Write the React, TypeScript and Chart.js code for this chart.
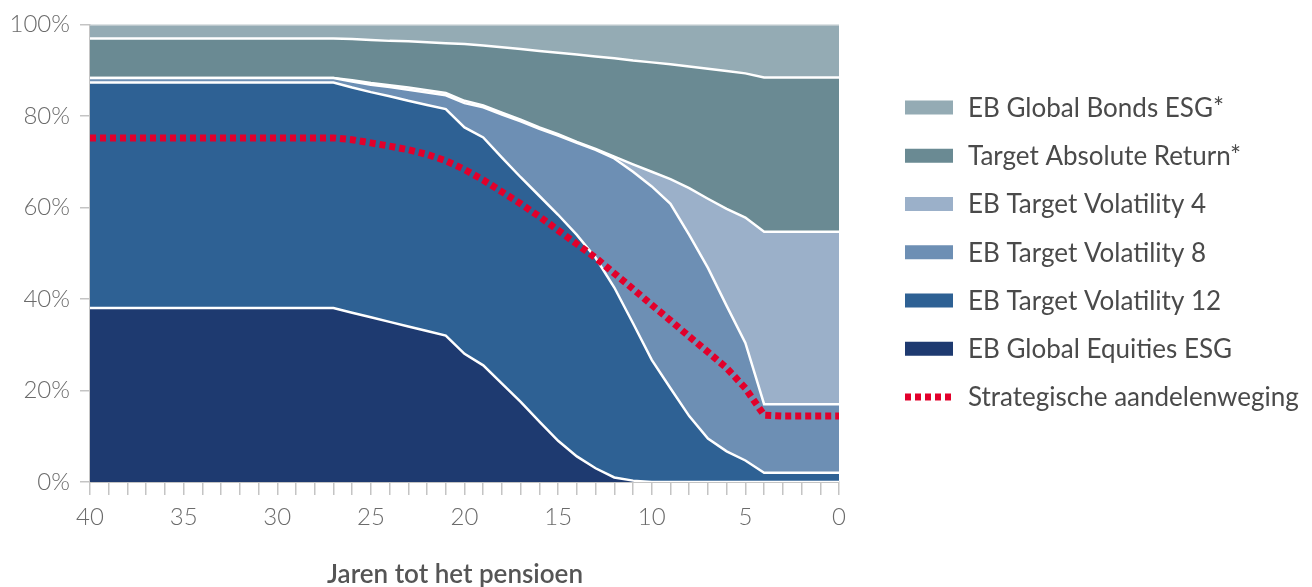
import React, { useEffect, useRef } from 'react';
import { Chart, registerables } from 'chart.js';

Chart.register(...registerables);

// Years until retirement (x axis categories)
const years = [40, 39, 38, 37, 36, 35, 34, 33, 32, 31, 30, 29, 28, 27, 26, 25, 24, 23, 22, 21, 20, 19, 18, 17, 16, 15, 14, 13, 12, 11, 10, 9, 8, 7, 6, 5, 4, 3, 2, 1, 0];

// Allocation per fund (% of portfolio), years 40 -> 0
const globalEquities = [38, 38, 38, 38, 38, 38, 38, 38, 38, 38, 38, 38, 38, 38, 37, 36, 35, 34, 33, 32, 28, 25.5, 21.5, 17.5, 13.2, 9, 5.6, 3, 1, 0.3, 0, 0, 0, 0, 0, 0, 0, 0, 0, 0, 0];
const targetVol12 = [49.3, 49.3, 49.3, 49.3, 49.3, 49.3, 49.3, 49.3, 49.3, 49.3, 49.3, 49.3, 49.3, 49.3, 49.2, 49.2, 49.3, 49.3, 49.4, 49.5, 49.5, 49.8, 49.4, 49.1, 49.3, 49.4, 48.4, 46, 41.5, 34.4, 26.7, 20.5, 14.4, 9.5, 6.7, 4.7, 2, 2, 2, 2, 2];
const targetVol8 = [1, 1, 1, 1, 1, 1, 1, 1, 1, 1, 1, 1, 1, 1, 1.3, 1.6, 2, 2.4, 2.7, 3, 5.3, 6.6, 9.4, 12.2, 14.7, 17.3, 20.1, 23.6, 28.2, 33.1, 37.9, 40.3, 39.6, 37.3, 31.8, 25.7, 15, 15, 15, 15, 15];
const targetVol4 = [0, 0, 0, 0, 0, 0, 0, 0, 0, 0, 0, 0, 0, 0, 0.3, 0.4, 0.4, 0.5, 0.5, 0.5, 0.5, 0.4, 0.4, 0.4, 0.3, 0.3, 0.2, 0.2, 0.4, 1.6, 3.2, 5.4, 10.2, 15.1, 21.2, 27.4, 37.7, 37.7, 37.7, 37.7, 37.7];
const targetAbsReturn = [8.6, 8.6, 8.6, 8.6, 8.6, 8.6, 8.6, 8.6, 8.6, 8.6, 8.6, 8.6, 8.6, 8.6, 9, 9.4, 9.7, 10.1, 10.5, 10.9, 12.4, 13.1, 14.3, 15.4, 16.7, 17.8, 19.1, 20.2, 21.5, 22.7, 23.9, 25.1, 26.6, 28.4, 30.1, 31.5, 33.7, 33.7, 33.7, 33.7, 33.7];
const globalBonds = [3.1, 3.1, 3.1, 3.1, 3.1, 3.1, 3.1, 3.1, 3.1, 3.1, 3.1, 3.1, 3.1, 3.1, 3.2, 3.4, 3.6, 3.7, 3.9, 4.1, 4.3, 4.6, 5, 5.4, 5.8, 6.2, 6.6, 7, 7.4, 7.9, 8.3, 8.7, 9.2, 9.7, 10.2, 10.7, 11.6, 11.6, 11.6, 11.6, 11.6];

// Strategic equity weighting (%)
const strategicEquity = [75.2, 75.2, 75.2, 75.2, 75.2, 75.2, 75.2, 75.2, 75.2, 75.2, 75.2, 75.2, 75.2, 75.2, 74.8, 74.1, 73.4, 72.6, 71.6, 70.2, 68.3, 66, 63.4, 60.8, 58, 55, 52, 49, 45.6, 42.2, 38.7, 35.3, 31.8, 28.4, 24.9, 20.5, 14.6, 14.4, 14.4, 14.4, 14.4];

// Bottom to top stacking order
const areaNames = ['EB Global Equities ESG', 'EB Target Volatility 12', 'EB Target Volatility 8', 'EB Target Volatility 4', 'Target Absolute Return*', 'EB Global Bonds ESG*'];
const areaValues = [globalEquities, targetVol12, targetVol8, targetVol4, targetAbsReturn, globalBonds];
const areaColors = ['#1e3a70', '#2e6194', '#6d8fb4', '#9bb0c9', '#6a8a93', '#94abb4'];
const lineName = 'Strategische aandelenweging';
const lineColor = '#e2002b';
const axisTitle = 'Jaren tot het pensioen';
const yTicks = [0, 20, 40, 60, 80, 100];

const FONT = 'Lato, "Open Sans", sans-serif';
const AXIS_GREY = '#c4c4c4';

export default function App() {
  const ref = useRef<HTMLCanvasElement>(null);

  useEffect(() => {
    document.body.style.margin = '0';
    let chart: Chart | null = null;
    let cancelled = false;

    const legendPlugin = {
      id: 'customLegend',
      afterDraw(c: any) {
        const ctx = c.ctx as CanvasRenderingContext2D;
        ctx.save();
        const items: { name: string; color: string; line?: boolean }[] = [];
        for (let i = areaNames.length - 1; i >= 0; i--) items.push({ name: areaNames[i], color: areaColors[i] });
        items.push({ name: lineName, color: lineColor, line: true });
        const boxX = 905;
        const textX = 968;
        const y0 = 107.5;
        const step = 48.25;
        ctx.font = `400 26px ${FONT}`;
        ctx.textBaseline = 'middle';
        ctx.textAlign = 'left';
        items.forEach((it, i) => {
          const y = y0 + i * step;
          if (it.line) {
            ctx.strokeStyle = it.color;
            ctx.lineWidth = 7;
            ctx.setLineDash([6, 4]);
            ctx.beginPath();
            ctx.moveTo(boxX, y);
            ctx.lineTo(boxX + 48, y);
            ctx.stroke();
            ctx.setLineDash([]);
          } else {
            ctx.fillStyle = it.color;
            ctx.fillRect(boxX, y - 7, 48, 14);
          }
          ctx.fillStyle = '#4a4a4a';
          ctx.fillText(it.name, textX, y + 1);
        });
        ctx.font = `600 26px ${FONT}`;
        ctx.fillStyle = '#555555';
        ctx.textAlign = 'center';
        ctx.fillText(axisTitle, 455, 575);
        ctx.restore();
      },
    };

    const make = () => {
      if (cancelled || !ref.current) return;
      const datasets: any[] = areaValues.map((vals, i) => ({
        label: areaNames[i],
        data: vals,
        backgroundColor: areaColors[i],
        borderColor: i === areaValues.length - 1 ? '#c9d1d5' : '#ffffff',
        borderWidth: 2.5,
        fill: i === 0 ? 'origin' : '-1',
        pointRadius: 0,
        pointHoverRadius: 0,
        tension: 0,
        stack: 'alloc',
        order: 1,
      }));
      datasets.push({
        label: lineName,
        data: strategicEquity,
        borderColor: lineColor,
        backgroundColor: lineColor,
        borderWidth: 7,
        borderDash: [6, 4],
        fill: false,
        pointRadius: 0,
        pointHoverRadius: 0,
        tension: 0,
        stack: 'strat',
        order: 0,
      });

      chart = new Chart(ref.current, {
        type: 'line',
        data: { labels: years.map(String), datasets },
        options: {
          animation: false,
          responsive: true,
          maintainAspectRatio: false,
          layout: { padding: { top: 20, right: 473, left: 0, bottom: 0 } },
          plugins: {
            legend: { display: false },
            tooltip: { enabled: false },
            title: { display: false },
          },
          scales: {
            x: {
              type: 'category',
              offset: false,
              z: 1,
              grid: { drawOnChartArea: false, drawTicks: true, tickLength: 13, color: AXIS_GREY, lineWidth: 1.5 },
              border: { color: AXIS_GREY, width: 2 },
              ticks: {
                autoSkip: false,
                maxRotation: 0,
                minRotation: 0,
                padding: 8,
                color: '#6b6b6b',
                font: { family: FONT, size: 24, weight: 300 as any },
                callback: (_v: any, i: number) => (years[i] % 5 === 0 ? String(years[i]) : ''),
              },
              afterFit: (s: any) => {
                s.height = 105;
              },
            },
            y: {
              stacked: true,
              min: 0,
              max: 100,
              afterBuildTicks: (s: any) => {
                s.ticks = yTicks.map((v) => ({ value: v }));
              },
              grid: { drawOnChartArea: false, drawTicks: true, tickLength: 10, color: AXIS_GREY, lineWidth: 1.5 },
              border: { color: AXIS_GREY, width: 1.5 },
              ticks: {
                padding: 10,
                color: '#6b6b6b',
                font: { family: FONT, size: 24, weight: 300 as any },
                callback: (v: any) => `${v}%`,
              },
              afterFit: (s: any) => {
                s.width = 90;
              },
            },
          },
        },
        plugins: [legendPlugin],
      });
    };

    const fonts: any = (document as any).fonts;
    if (fonts && fonts.load) {
      Promise.all([fonts.load(`300 24px Lato`), fonts.load(`400 26px Lato`), fonts.load(`600 26px Lato`)]).then(make, make);
    } else {
      make();
    }

    return () => {
      cancelled = true;
      if (chart) chart.destroy();
    };
  }, []);

  return (
    <div style={{ width: 1312, height: 587, position: 'relative' }}>
      <canvas ref={ref} />
    </div>
  );
}
